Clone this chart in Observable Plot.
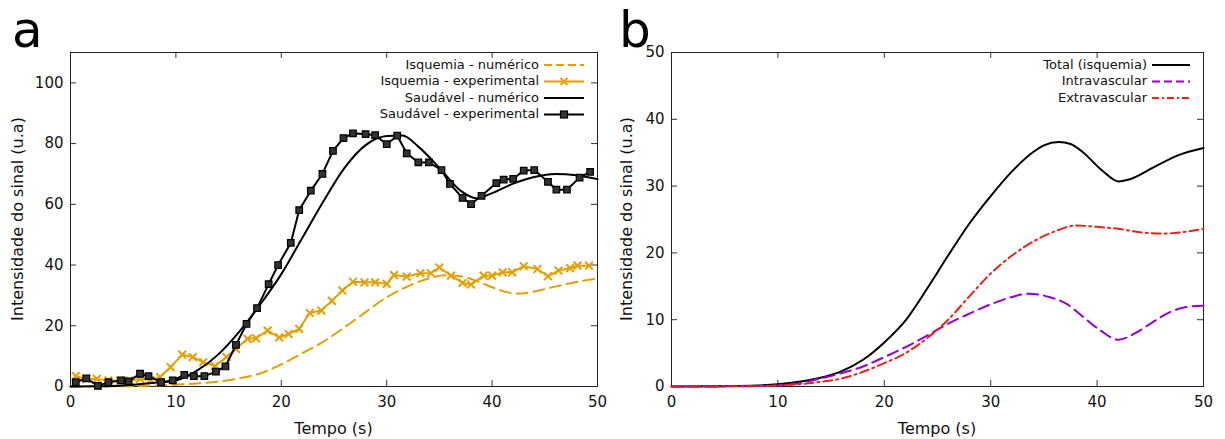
<!DOCTYPE html>
<html><head><meta charset="utf-8">
<script src="https://cdn.jsdelivr.net/npm/d3@7"></script>
<script src="https://cdn.jsdelivr.net/npm/@observablehq/plot@0.6"></script>
<style>
body{margin:0;background:#fff;}
#wrap{position:relative;width:1225px;height:439px;overflow:hidden;font-family:"DejaVu Sans";}
.panel{position:absolute;top:0;}
</style>
</head><body>
<div id="wrap"><div id="pa" class="panel" style="left:0"></div><div id="pb" class="panel" style="left:612px"></div></div>
<script>
// ---------- Data: panel a ----------
const xTicks = [0, 10, 20, 30, 40, 50];
const yTicksA = [0, 20, 40, 60, 80, 100];
const yTicksB = [0, 10, 20, 30, 40, 50];

const sauExpT = [0.5,1.5,2.6,3.6,4.8,5.5,6.6,7.4,8.6,9.7,10.8,11.7,12.7,13.8,14.7,15.7,16.7,17.7,18.8,19.7,20.9,21.7,22.8,23.9,24.9,25.9,26.8,28.0,28.9,30.0,31.0,31.9,33.0,34.0,35.2,36.0,37.2,38.0,39.0,40.4,41.1,42.0,43.0,44.0,45.3,46.1,47.1,48.3,49.3];
const sauExpV = [1.4,2.7,0.2,1.4,2.0,1.7,4.2,3.4,1.4,2.0,3.8,3.4,3.4,4.9,6.6,13.7,20.6,25.8,33.7,40.0,47.3,58.1,64.5,70.0,77.6,81.8,83.4,83.1,82.8,79.8,82.6,76.8,73.8,73.8,71.3,66.7,62.1,60.1,62.8,67.0,68.1,68.4,71.1,71.3,67.4,64.8,64.8,68.8,70.7];

const isqExpT = [0.5,1.5,2.5,3.6,4.7,5.6,6.6,7.6,8.5,9.5,10.6,11.6,12.6,13.7,14.8,15.7,16.8,17.6,18.7,19.8,20.7,21.7,22.7,23.8,24.8,25.8,26.8,27.9,28.9,30.0,30.7,31.9,33.2,34.2,35.0,36.1,37.2,38.0,39.2,40.0,41.0,41.9,43.0,44.3,45.3,46.3,47.4,48.1,49.2];
const isqExpV = [3.4,2.5,2.5,2.0,2.0,2.0,2.5,2.2,3.1,6.4,10.5,9.7,8.0,6.7,9.7,12.4,15.7,15.9,18.4,16.2,17.3,19.0,24.2,25.0,28.2,31.6,34.5,34.3,34.3,33.8,36.7,36.2,37.3,37.3,39.2,36.5,34.1,33.6,36.5,36.5,37.6,37.6,39.6,38.7,36.3,38.2,39.0,39.8,39.8];

const sauNumT = [0,2,4,6,8,10,12,14,16,18,20,22,24,26,28,30,31.5,33,35,37,38.5,40,42,44,46,48,50];
const sauNumV = [0,0.05,0.2,0.6,1.2,2.0,5.2,10.5,18,27,37,49,61,72,79.5,82.5,82.7,79,72,64.5,62,63.7,66.8,69,70,69.6,68.3];

const isqNumT = [0,4,8,10,12,14,16,18,20,22,24,26,28,30,32,34,35.5,37,38.5,40,41.5,42.5,44,46,48,50];
const isqNumV = [0,0.05,0.3,0.6,1.0,1.6,2.7,4.3,7.3,11,14.8,19.5,24.5,29.4,33,35.6,36.6,36.3,34.8,32.7,31,30.6,31.3,32.9,34.4,35.6];

// ---------- Data: panel b ----------
const totT = [0,5,8,10,12,14,16,18,20,22,24,26,28,30,32,34,35,36.4,37.5,38.5,40.5,42,43,45.3,47.6,50];
const totV = [0,0.05,0.15,0.35,0.7,1.3,2.3,4.0,6.6,9.9,14.6,19.6,24.4,28.5,32.2,35.1,36.1,36.6,36.3,35.3,32.3,30.7,31.0,32.8,34.6,35.7];

const intraT = [0,5,10,12,14,16,18,20,22,24,26,28,30,32,33.6,35.5,37.1,38.7,40.3,42,43.5,45.2,46.8,48.4,50];
const intraV = [0,0.02,0.15,0.5,1.2,2.0,3.0,4.4,5.9,7.6,9.4,10.9,12.3,13.4,13.9,13.4,12.4,10.4,8.4,7.0,7.9,9.6,11.1,11.9,12.1];

const extraT = [0,8,10,12,14,16,18,20,22,24,26,28,30,32,34,36,38,40,42,44,46.5,48,50];
const extraV = [0,0.05,0.15,0.35,0.7,1.2,2.2,3.5,5.0,7.2,10.0,13.5,16.9,19.6,21.7,23.2,24.1,23.9,23.6,23.1,22.9,23.1,23.6];

const legendA = ["Isquemia - numérico", "Isquemia - experimental", "Saudável - numérico", "Saudável - experimental"];
const legendB = ["Total (isquemia)", "Intravascular", "Extravascular"];

const ORANGE = "#e69f00", BLACK = "#000", PURPLE = "#9400d3", RED = "#e8231c";
const zip = (t, v) => t.map((x, i) => ({t: x, v: v[i]}));
const SMOOTH = "monotone-x";

function base(opts) {
  const {width, height, ml, mr, mt, mb, ymax, yTicks} = opts;
  const fw = width - ml - mr, fh = height - mt - mb;
  return {
    width, height, marginLeft: ml, marginRight: mr, marginTop: mt, marginBottom: mb,
    style: {fontFamily: "DejaVu Sans", fontSize: "15px", color: "#111", background: "transparent", overflow: "visible"},
    x: {domain: [0, 50]},
    y: {domain: [0, ymax]},
    axes: [
      Plot.tickX(xTicks, {x: d => d, insetTop: fh - 6, stroke: "#333"}),
      Plot.tickX(xTicks, {x: d => d, insetBottom: fh - 6, stroke: "#333"}),
      Plot.tickY(yTicks, {y: d => d, insetRight: fw - 6, stroke: "#333"}),
      Plot.tickY(yTicks, {y: d => d, insetLeft: fw - 6, stroke: "#333"}),
      Plot.axisX(xTicks, {tickSize: 0, tickPadding: 10, fontSize: 15, label: null}),
      Plot.axisY(yTicks, {tickSize: 0, tickPadding: 7, fontSize: 15, label: null}),
      Plot.frame({stroke: "#222", strokeWidth: 1})
    ]
  };
}

function decorate(svg, o) {
  const s = d3.select(svg);
  s.append("text").attr("x", o.letterX).attr("y", 47).attr("font-size", 50).attr("fill", "#000")
    .attr("text-anchor", "start").attr("font-family", "DejaVu Sans").text(o.letter);
  s.append("text").attr("x", (o.ml + o.width - o.mr) / 2).attr("y", 434).attr("text-anchor", "middle")
    .attr("font-size", 16).attr("fill", "#111").attr("font-family", "DejaVu Sans").text("Tempo (s)");
  s.append("text").attr("transform", `translate(${o.ylabX},${(o.mt + o.height - o.mb) / 2}) rotate(-90)`)
    .attr("text-anchor", "middle").attr("dominant-baseline", "middle")
    .attr("font-size", 16).attr("fill", "#111").attr("font-family", "DejaVu Sans").text("Intensidade do sinal (u.a)");
  const g = s.append("g").attr("font-family", "DejaVu Sans").attr("font-size", 13).attr("fill", "#111");
  o.legend.forEach((name, i) => {
    const y = o.legY + i * o.legDy, st = o.legStyle[i];
    g.append("text").attr("x", o.legTextX).attr("y", y).attr("text-anchor", "end").attr("dominant-baseline", "middle").text(name);
    g.append("line").attr("x1", o.legX1).attr("x2", o.legX2).attr("y1", y).attr("y2", y)
      .attr("stroke", st.color).attr("stroke-width", 2).attr("stroke-dasharray", st.dash || null);
    const cx = (o.legX1 + o.legX2) / 2;
    if (st.marker === "square") g.append("rect").attr("x", cx - 3.5).attr("y", y - 3.5).attr("width", 7).attr("height", 7).attr("fill", "#333").attr("stroke", "#000").attr("stroke-width", 1.2);
    if (st.marker === "times") g.append("path").attr("d", `M${cx-3.5},${y-3.5}L${cx+3.5},${y+3.5}M${cx-3.5},${y+3.5}L${cx+3.5},${y-3.5}`).attr("stroke", st.color).attr("stroke-width", 2);
  });
}

// ---------- Panel a ----------
const oa = {width: 612, height: 439, ml: 70, mr: 15, mt: 52, mb: 53, ymax: 110, yTicks: yTicksA};
const cfgA = base(oa);
cfgA.marks = [
  ...cfgA.axes,
  Plot.line(zip(isqNumT, isqNumV), {x: "t", y: "v", stroke: ORANGE, strokeWidth: 2, strokeDasharray: "11,6", curve: SMOOTH}),
  Plot.line(zip(isqExpT, isqExpV), {x: "t", y: "v", stroke: ORANGE, strokeWidth: 2}),
  Plot.dot(zip(isqExpT, isqExpV), {x: "t", y: "v", symbol: "times", r: 3.6, stroke: ORANGE, strokeWidth: 2}),
  Plot.line(zip(sauNumT, sauNumV), {x: "t", y: "v", stroke: BLACK, strokeWidth: 2, curve: SMOOTH}),
  Plot.line(zip(sauExpT, sauExpV), {x: "t", y: "v", stroke: BLACK, strokeWidth: 2}),
  Plot.dot(zip(sauExpT, sauExpV), {x: "t", y: "v", symbol: "square", r: 3.7, fill: "#333", stroke: BLACK, strokeWidth: 1.2})
];
delete cfgA.axes;
const svgA = Plot.plot(cfgA);
document.getElementById("pa").appendChild(svgA);
decorate(svgA, {...oa, letter: "a", letterX: 12, ylabX: 18, legend: legendA,
  legY: 65, legDy: 16.5, legTextX: 539, legX1: 544, legX2: 584,
  legStyle: [{color: ORANGE, dash: "8,4"}, {color: ORANGE, marker: "times"}, {color: BLACK}, {color: BLACK, marker: "square"}]});

// ---------- Panel b ----------
const ob = {width: 613, height: 439, ml: 59, mr: 22, mt: 52, mb: 53, ymax: 50, yTicks: yTicksB};
const cfgB = base(ob);
cfgB.marks = [
  ...cfgB.axes,
  Plot.line(zip(totT, totV), {x: "t", y: "v", stroke: BLACK, strokeWidth: 2, curve: SMOOTH}),
  Plot.line(zip(intraT, intraV), {x: "t", y: "v", stroke: PURPLE, strokeWidth: 2, strokeDasharray: "11,6", curve: SMOOTH}),
  Plot.line(zip(extraT, extraV), {x: "t", y: "v", stroke: RED, strokeWidth: 2, strokeDasharray: "9,4,2,4", curve: SMOOTH})
];
delete cfgB.axes;
const svgB = Plot.plot(cfgB);
document.getElementById("pb").appendChild(svgB);
decorate(svgB, {...ob, letter: "b", letterX: 7, ylabX: 15, legend: legendB,
  legY: 65, legDy: 16.5, legTextX: 1147 - 612, legX1: 1152 - 612, legX2: 1190 - 612,
  legStyle: [{color: BLACK}, {color: PURPLE, dash: "8,4"}, {color: RED, dash: "7,3,2,3"}]});
</script>
</body></html>
